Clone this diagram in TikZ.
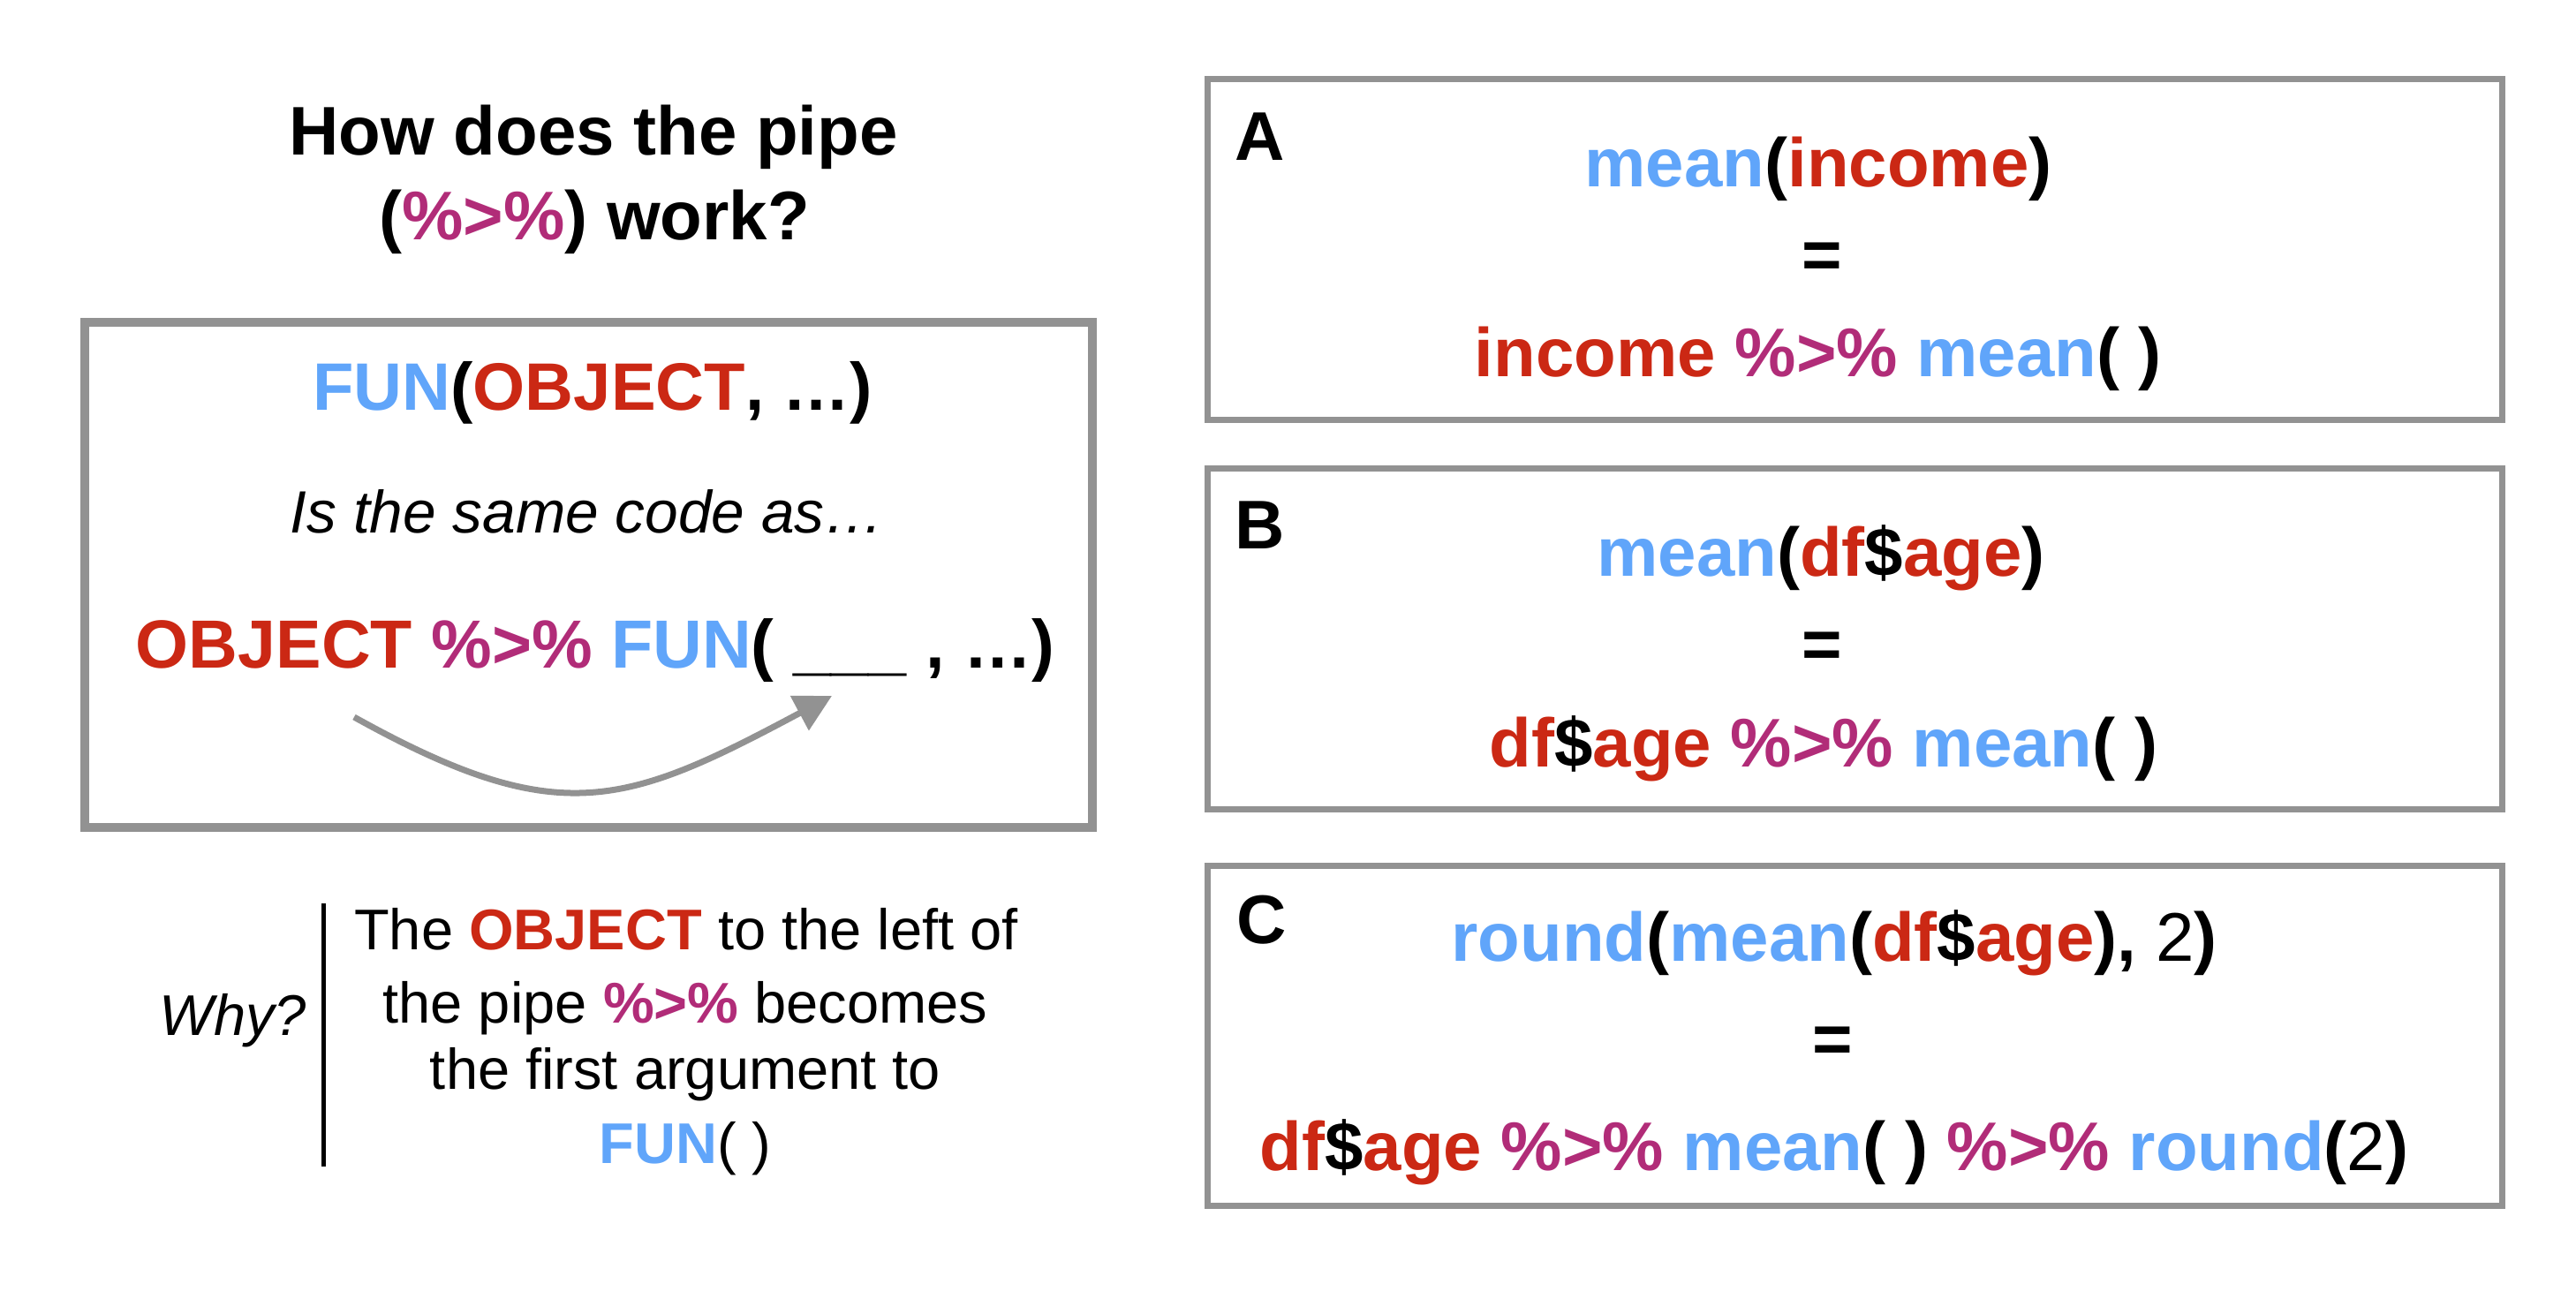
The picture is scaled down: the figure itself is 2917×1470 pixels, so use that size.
\documentclass[tikz,border=0pt]{standalone}
\usepackage{fontspec}
\setmainfont{Liberation Sans}
\usetikzlibrary{arrows.meta}
\definecolor{fblue}{HTML}{60A5FA}
\definecolor{ored}{HTML}{CB2814}
\definecolor{pmag}{HTML}{B12C78}
\definecolor{bgray}{HTML}{929292}
\newcommand{\cfun}[1]{\textcolor{fblue}{#1}}
\newcommand{\cobj}[1]{\textcolor{ored}{#1}}
\newcommand{\cpipe}{\textcolor{pmag}{\%>\%}}
\begin{document}
\begin{tikzpicture}[x=0.25pt,y=-0.25pt,
  every node/.style={inner sep=0pt,outer sep=0pt},
  bigtext/.style={font=\fontsize{19}{23}\selectfont\bfseries,anchor=base},
  codetext/.style={font=\fontsize{19.5}{24}\selectfont\bfseries,anchor=base},
  prose/.style={font=\fontsize{16.25}{20}\selectfont,anchor=base},
  panellabel/.style={font=\fontsize{19.5}{24}\selectfont\bfseries,anchor=base west},
  panel/.style={draw=bgray,line width=1.75pt,minimum width=366.5pt,minimum height=96.5pt},
  mainbox/.style={draw=bgray,line width=2.5pt,minimum width=285.25pt,minimum height=143pt},
  arrowstyle/.style={draw=bgray,line width=1.75pt,-{Triangle[length=10.4pt,width=10.75pt]}},
  whyline/.style={draw=black,line width=1.25pt}]
\useasboundingbox (0,0) rectangle (2917,1470);

% title
\node[bigtext,font=\fontsize{19.5}{24}\selectfont\bfseries] (t1) at (672,175) {How does the pipe};
\node[bigtext,font=\fontsize{19.5}{24}\selectfont\bfseries] (t2) at (673,271) {(\cpipe) work?};

% left box
\node[mainbox] (lbox) at (666.5,651) {};
\node[bigtext] (l1) at (671,464) {\cfun{FUN}(\cobj{OBJECT}, …)};
\node[prose,font=\fontsize{16.9}{20}\selectfont\itshape] (l2) at (665,603) {Is the same code as…};
\node[bigtext,font=\fontsize{19.3}{23}\selectfont\bfseries] (l3) at (674,756) {\cobj{OBJECT} \cpipe{} \cfun{FUN}( \_\_\_ , …)};
\coordinate (arrS) at (401,812);
\coordinate (arrE) at (942,788);
\draw[arrowstyle] (arrS) .. controls (633,941) and (708,913) .. (arrE);

% why
\node[prose,font=\fontsize{16.25}{20}\selectfont\itshape] (why) at (264,1172) {Why?};
\coordinate (wtop) at (366,1023);
\coordinate (wbot) at (366,1321);
\draw[whyline] (wtop) -- (wbot);
\node[prose] (w1) at (777,1075) {The \textbf{\cobj{OBJECT}} to the left of};
\node[prose] (w2) at (776,1158) {the pipe \textbf{\cpipe} becomes};
\node[prose] (w3) at (776,1233) {the first argument to};
\node[prose] (w4) at (776,1317) {\textbf{\cfun{FUN}}( )};

% panel A
\node[panel] (boxA) at (2100,282) {};
\node[panellabel] (labA) at (1398,181) {A};
\node[codetext] (a1) at (2059,211) {\cfun{mean}(\cobj{income})};
\node[codetext] (a2) at (2063,315) {=};
\node[codetext] (a3) at (2059,426) {\cobj{income} \cpipe{} \cfun{mean}( )};

% panel B
\node[panel] (boxB) at (2100,723) {};
\node[panellabel] (labB) at (1398,621) {B};
\node[codetext] (b1) at (2062,652) {\cfun{mean}(\cobj{df}\$\cobj{age})};
\node[codetext] (b2) at (2063,756) {=};
\node[codetext] (b3) at (2065,868) {\cobj{df}\$\cobj{age} \cpipe{} \cfun{mean}( )};

% panel C
\node[panel,minimum height=96.25pt] (boxC) at (2100,1172.5) {};
\node[panellabel] (labC) at (1400,1068) {C};
\node[codetext] (c1) at (2077,1088) {\cfun{round}(\cfun{mean}(\cobj{df}\$\cobj{age}), {\mdseries 2})};
\node[codetext] (c2) at (2075,1203) {=};
\node[codetext] (c3) at (2077,1325) {\cobj{df}\$\cobj{age} \cpipe{} \cfun{mean}( ) \cpipe{} \cfun{round}({\mdseries 2})};
\end{tikzpicture}
\end{document}
